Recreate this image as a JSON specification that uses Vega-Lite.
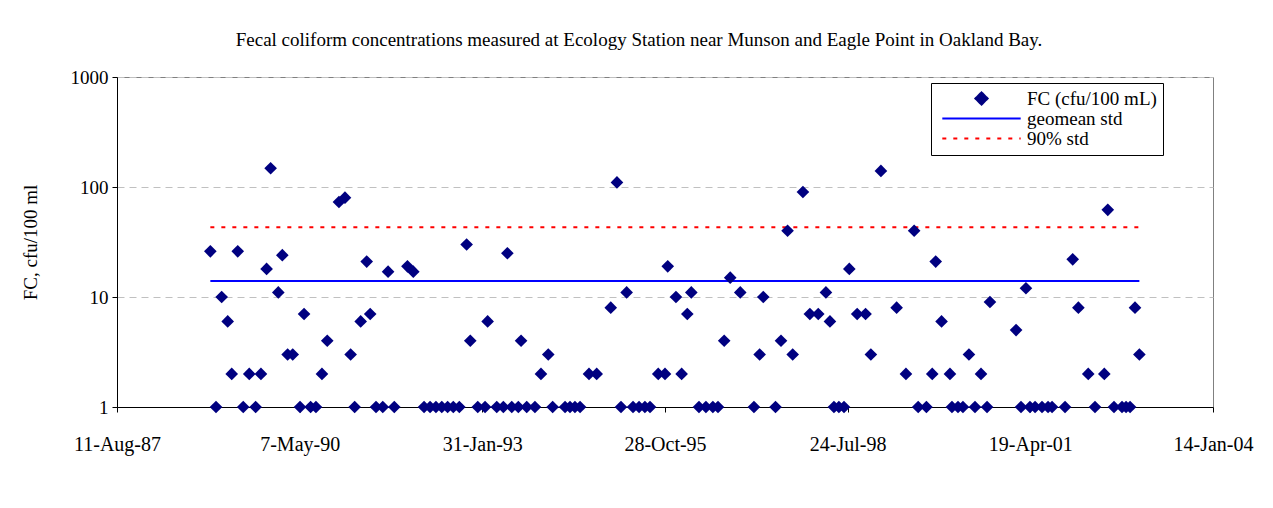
{
  "$schema": "https://vega.github.io/schema/vega-lite/v6.json",
  "autosize": {"type": "none"},
  "padding": {"left": 117, "top": 77, "right": 60, "bottom": 101},
  "width": 1096,
  "height": 330,
  "background": "white",
  "title": {
    "text": "Fecal coliform concentrations measured at Ecology Station near Munson and Eagle Point in Oakland Bay.",
    "font": "Liberation Serif",
    "fontSize": 19,
    "fontWeight": "normal",
    "color": "#000000",
    "anchor": "middle",
    "dx": -26,
    "offset": 18
  },
  "config": {
    "font": "Liberation Serif",
    "view": {"stroke": "#808080", "strokeWidth": 1},
    "axis": {
      "labelFont": "Liberation Serif",
      "labelFontSize": 19,
      "labelColor": "#000000",
      "titleFont": "Liberation Serif",
      "titleFontSize": 19,
      "titleFontWeight": "normal",
      "titleColor": "#000000",
      "domainColor": "#000000",
      "tickColor": "#000000",
      "tickSize": 5
    },
    "legend": {
      "labelFont": "Liberation Serif",
      "labelFontSize": 19,
      "labelColor": "#000000",
      "symbolSize": 150
    }
  },
  "datasets": {
    "fc": [
      {"date": "1989-01-03", "fc": 26}, {"date": "1989-02-03", "fc": 1}, {"date": "1989-03-06", "fc": 10},
      {"date": "1989-04-08", "fc": 6}, {"date": "1989-04-30", "fc": 2}, {"date": "1989-06-02", "fc": 26},
      {"date": "1989-07-02", "fc": 1}, {"date": "1989-08-04", "fc": 2}, {"date": "1989-09-08", "fc": 1},
      {"date": "1989-10-07", "fc": 2}, {"date": "1989-11-07", "fc": 18}, {"date": "1989-11-29", "fc": 148},
      {"date": "1990-01-10", "fc": 11}, {"date": "1990-02-01", "fc": 24}, {"date": "1990-03-02", "fc": 3},
      {"date": "1990-03-30", "fc": 3}, {"date": "1990-05-09", "fc": 1}, {"date": "1990-05-31", "fc": 7},
      {"date": "1990-07-06", "fc": 1}, {"date": "1990-08-04", "fc": 1}, {"date": "1990-09-06", "fc": 2},
      {"date": "1990-10-05", "fc": 4}, {"date": "1990-12-08", "fc": 73}, {"date": "1991-01-10", "fc": 80},
      {"date": "1991-02-10", "fc": 3}, {"date": "1991-03-04", "fc": 1}, {"date": "1991-04-06", "fc": 6},
      {"date": "1991-05-09", "fc": 21}, {"date": "1991-05-28", "fc": 7}, {"date": "1991-06-29", "fc": 1},
      {"date": "1991-08-05", "fc": 1}, {"date": "1991-09-03", "fc": 17}, {"date": "1991-10-07", "fc": 1},
      {"date": "1991-12-18", "fc": 19}, {"date": "1992-01-19", "fc": 17}, {"date": "1992-03-18", "fc": 1},
      {"date": "1992-04-20", "fc": 1}, {"date": "1992-05-22", "fc": 1}, {"date": "1992-06-23", "fc": 1},
      {"date": "1992-07-25", "fc": 1}, {"date": "1992-08-25", "fc": 1}, {"date": "1992-09-27", "fc": 1},
      {"date": "1992-11-06", "fc": 30}, {"date": "1992-11-26", "fc": 4}, {"date": "1993-01-06", "fc": 1},
      {"date": "1993-02-15", "fc": 1}, {"date": "1993-03-01", "fc": 6}, {"date": "1993-04-20", "fc": 1},
      {"date": "1993-05-26", "fc": 1}, {"date": "1993-06-17", "fc": 25}, {"date": "1993-07-11", "fc": 1},
      {"date": "1993-08-16", "fc": 1}, {"date": "1993-08-31", "fc": 4}, {"date": "1993-10-01", "fc": 1},
      {"date": "1993-11-15", "fc": 1}, {"date": "1993-12-18", "fc": 2}, {"date": "1994-01-27", "fc": 3},
      {"date": "1994-02-20", "fc": 1}, {"date": "1994-04-29", "fc": 1}, {"date": "1994-05-26", "fc": 1},
      {"date": "1994-06-22", "fc": 1}, {"date": "1994-07-20", "fc": 1}, {"date": "1994-09-07", "fc": 2},
      {"date": "1994-10-19", "fc": 2}, {"date": "1995-01-04", "fc": 8}, {"date": "1995-02-07", "fc": 110},
      {"date": "1995-03-01", "fc": 1}, {"date": "1995-04-01", "fc": 11}, {"date": "1995-05-06", "fc": 1},
      {"date": "1995-06-08", "fc": 1}, {"date": "1995-07-10", "fc": 1}, {"date": "1995-08-07", "fc": 1},
      {"date": "1995-09-21", "fc": 2}, {"date": "1995-10-28", "fc": 2}, {"date": "1995-11-12", "fc": 19},
      {"date": "1995-12-27", "fc": 10}, {"date": "1996-01-27", "fc": 2}, {"date": "1996-02-27", "fc": 7},
      {"date": "1996-03-20", "fc": 11}, {"date": "1996-05-01", "fc": 1}, {"date": "1996-06-08", "fc": 1},
      {"date": "1996-07-16", "fc": 1}, {"date": "1996-08-13", "fc": 1}, {"date": "1996-09-16", "fc": 4},
      {"date": "1996-10-19", "fc": 15}, {"date": "1996-12-13", "fc": 11}, {"date": "1997-02-26", "fc": 1},
      {"date": "1997-03-29", "fc": 3}, {"date": "1997-04-18", "fc": 10}, {"date": "1997-06-24", "fc": 1},
      {"date": "1997-07-24", "fc": 4}, {"date": "1997-08-29", "fc": 40}, {"date": "1997-09-26", "fc": 3},
      {"date": "1997-11-21", "fc": 90}, {"date": "1997-12-29", "fc": 7}, {"date": "1998-02-13", "fc": 7},
      {"date": "1998-03-27", "fc": 11}, {"date": "1998-04-18", "fc": 6}, {"date": "1998-05-10", "fc": 1},
      {"date": "1998-06-06", "fc": 1}, {"date": "1998-07-04", "fc": 1}, {"date": "1998-08-02", "fc": 18},
      {"date": "1998-09-14", "fc": 7}, {"date": "1998-10-30", "fc": 7}, {"date": "1998-11-28", "fc": 3},
      {"date": "1999-01-22", "fc": 140}, {"date": "1999-04-18", "fc": 8}, {"date": "1999-06-08", "fc": 2},
      {"date": "1999-07-23", "fc": 40}, {"date": "1999-08-14", "fc": 1}, {"date": "1999-09-28", "fc": 1},
      {"date": "1999-10-30", "fc": 2}, {"date": "1999-11-18", "fc": 21}, {"date": "1999-12-20", "fc": 6},
      {"date": "2000-02-04", "fc": 2}, {"date": "2000-02-15", "fc": 1}, {"date": "2000-03-19", "fc": 1},
      {"date": "2000-04-15", "fc": 1}, {"date": "2000-05-18", "fc": 3}, {"date": "2000-06-20", "fc": 1},
      {"date": "2000-07-23", "fc": 2}, {"date": "2000-08-25", "fc": 1}, {"date": "2000-09-10", "fc": 9},
      {"date": "2001-01-31", "fc": 5}, {"date": "2001-02-27", "fc": 1}, {"date": "2001-03-26", "fc": 12},
      {"date": "2001-04-17", "fc": 1}, {"date": "2001-05-15", "fc": 1}, {"date": "2001-06-22", "fc": 1},
      {"date": "2001-07-25", "fc": 1}, {"date": "2001-08-16", "fc": 1}, {"date": "2001-10-26", "fc": 1},
      {"date": "2001-12-07", "fc": 22}, {"date": "2002-01-07", "fc": 8}, {"date": "2002-03-02", "fc": 2},
      {"date": "2002-04-08", "fc": 1}, {"date": "2002-05-29", "fc": 2}, {"date": "2002-06-17", "fc": 62},
      {"date": "2002-07-21", "fc": 1}, {"date": "2002-09-03", "fc": 1}, {"date": "2002-09-25", "fc": 1},
      {"date": "2002-10-17", "fc": 1}, {"date": "2002-11-13", "fc": 8}, {"date": "2002-12-07", "fc": 3}
    ],
    "std": [
      {"date": "1989-01-03", "series": "geomean std", "value": 14},
      {"date": "2002-12-07", "series": "geomean std", "value": 14},
      {"date": "1989-01-03", "series": "90% std", "value": 43},
      {"date": "2002-12-07", "series": "90% std", "value": 43}
    ]
  },
  "encoding": {
    "x": {
      "field": "date",
      "type": "temporal",
      "scale": {
        "type": "utc",
        "domain": [
          {"year": 1987, "month": 8, "date": 11, "utc": true},
          {"year": 2004, "month": 1, "date": 14, "utc": true}
        ]
      },
      "axis": {
        "title": null,
        "grid": false,
        "values": [
          {"year": 1987, "month": 8, "date": 11, "utc": true},
          {"year": 1990, "month": 5, "date": 7, "utc": true},
          {"year": 1993, "month": 1, "date": 31, "utc": true},
          {"year": 1995, "month": 10, "date": 28, "utc": true},
          {"year": 1998, "month": 7, "date": 24, "utc": true},
          {"year": 2001, "month": 4, "date": 19, "utc": true},
          {"year": 2004, "month": 1, "date": 14, "utc": true}
        ],
        "labelExpr": "utcFormat(datum.value, '%-d-%b-%y')",
        "labelFontSize": 20,
        "labelPadding": 22,
        "labelFlush": false,
        "labelOverlap": false
      }
    }
  },
  "layer": [
    {
      "data": {"name": "std"},
      "mark": {"type": "line", "strokeWidth": 2},
      "encoding": {
        "y": {"field": "value", "type": "quantitative"},
        "color": {
          "field": "series",
          "type": "nominal",
          "scale": {
            "domain": ["FC (cfu/100 mL)", "geomean std", "90% std"],
            "range": ["#000080", "#0000FF", "#FF0000"]
          },
          "legend": {
            "title": null,
            "orient": "none",
            "legendX": 814,
            "legendY": 6,
            "fillColor": "#FFFFFF",
            "strokeColor": "#000000",
            "padding": 6,
            "symbolOffset": 35,
            "labelOffset": 36,
            "symbolStrokeWidth": 2,
            "rowPadding": -1.5,
            "labelExpr": "datum.label + '\u00a0\u00a0\u00a0\u00a0\u00a0\u00a0\u00a0\u00a0\u00a0\u00a0'"
          }
        },
        "strokeDash": {
          "field": "series",
          "type": "nominal",
          "scale": {
            "domain": ["FC (cfu/100 mL)", "geomean std", "90% std"],
            "range": [[1, 0], [1, 0], [4, 7]]
          },
          "legend": {"title": null}
        },
        "detail": {"field": "series"}
      }
    },
    {
      "data": {"name": "fc"},
      "mark": {"type": "point", "filled": true, "opacity": 1, "size": 160},
      "encoding": {
        "y": {
          "field": "fc",
          "type": "quantitative",
          "scale": {"type": "log", "domain": [1, 1000], "nice": false},
          "axis": {
            "title": "FC, cfu/100 ml",
            "values": [1, 10, 100, 1000],
            "format": "d",
            "grid": true,
            "gridColor": "#C0C0C0",
            "gridDash": [7, 5],
            "labelPadding": 4,
            "titleAngle": -90,
            "titleX": -87,
            "titleY": 165,
            "titleAlign": "center",
            "titleBaseline": "middle"
          }
        },
        "color": {"datum": "FC (cfu/100 mL)", "type": "nominal"},
        "shape": {
          "datum": "FC (cfu/100 mL)",
          "type": "nominal",
          "scale": {
            "domain": ["FC (cfu/100 mL)", "geomean std", "90% std"],
            "range": ["diamond", "M-6.4,0L6.4,0", "M-6.4,0L6.4,0"]
          },
          "legend": {"title": null}
        }
      }
    }
  ]
}
